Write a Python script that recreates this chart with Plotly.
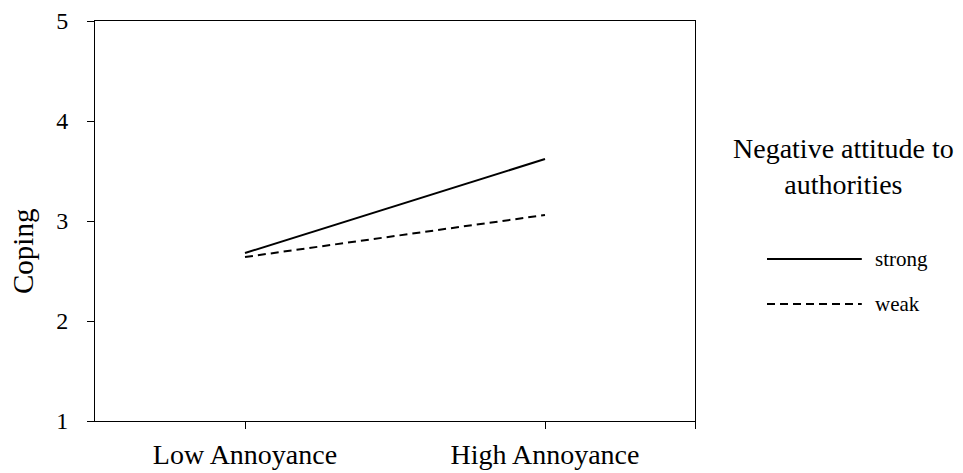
import plotly.graph_objects as go

categories = ["Low Annoyance", "High Annoyance"]
series_names = ["strong", "weak"]
strong_values = [2.68, 3.62]
weak_values = [2.64, 3.06]
y_ticks = [1, 2, 3, 4, 5]
legend_title = "Negative attitude to<br>authorities"

FONT = "Liberation Serif"
x_pos = list(range(len(categories)))
dashes = ["solid", "8px,5px"]

fig = go.Figure()
for name, vals, dash in zip(series_names, [strong_values, weak_values], dashes):
    fig.add_trace(go.Scatter(x=x_pos, y=vals, mode="lines", name=name,
                             line=dict(color="black", width=2, dash=dash),
                             showlegend=False))

# manual legend
fig.add_annotation(text=legend_title, xref="paper", yref="paper",
                   x=1.2467, y=0.6375, xanchor="center", yanchor="middle", showarrow=False,
                   font=dict(family=FONT, size=28, color="black"), align="center")
leg_y = [0.405, 0.2925]
for name, dash, yy in zip(series_names, dashes, leg_y):
    fig.add_shape(type="line", xref="paper", yref="paper", x0=1.12, x1=1.278, y0=yy, y1=yy,
                  line=dict(color="black", width=2, dash=dash))
    fig.add_annotation(text=name, xref="paper", yref="paper", x=1.297, y=yy,
                       xanchor="left", yanchor="middle", showarrow=False,
                       font=dict(family=FONT, size=21, color="black"))

fig.add_annotation(text="Coping", xref="paper", yref="paper", x=-0.12, y=0.4225,
                   xanchor="center", yanchor="middle", textangle=-90, showarrow=False,
                   font=dict(family=FONT, size=29, color="black"))

fig.update_layout(
    width=955, height=465,
    margin=dict(l=87, r=268, t=13, b=52),
    paper_bgcolor="white", plot_bgcolor="white",
    font=dict(family=FONT, size=27, color="black"),
)
fig.update_xaxes(range=[-0.5, 1.5], tickvals=x_pos + [1.5], ticktext=categories + [""],
                 ticks="outside", ticklen=7, tickcolor="black", showline=True, linecolor="black",
                 linewidth=1, mirror=True, showgrid=False, zeroline=False, automargin=False,
                 ticklabeloverflow="allow",
                 tickfont=dict(family=FONT, size=28), ticklabelstandoff=1)
fig.update_yaxes(range=[1, 5], tickvals=y_ticks, ticks="outside", ticklen=7, tickcolor="black",
                 showline=True, linecolor="black", linewidth=1, mirror=True, showgrid=False,
                 zeroline=False, automargin=False, ticklabeloverflow="allow",
                 tickfont=dict(family=FONT, size=24), ticklabelstandoff=14)

fig.write_html("out.html")
